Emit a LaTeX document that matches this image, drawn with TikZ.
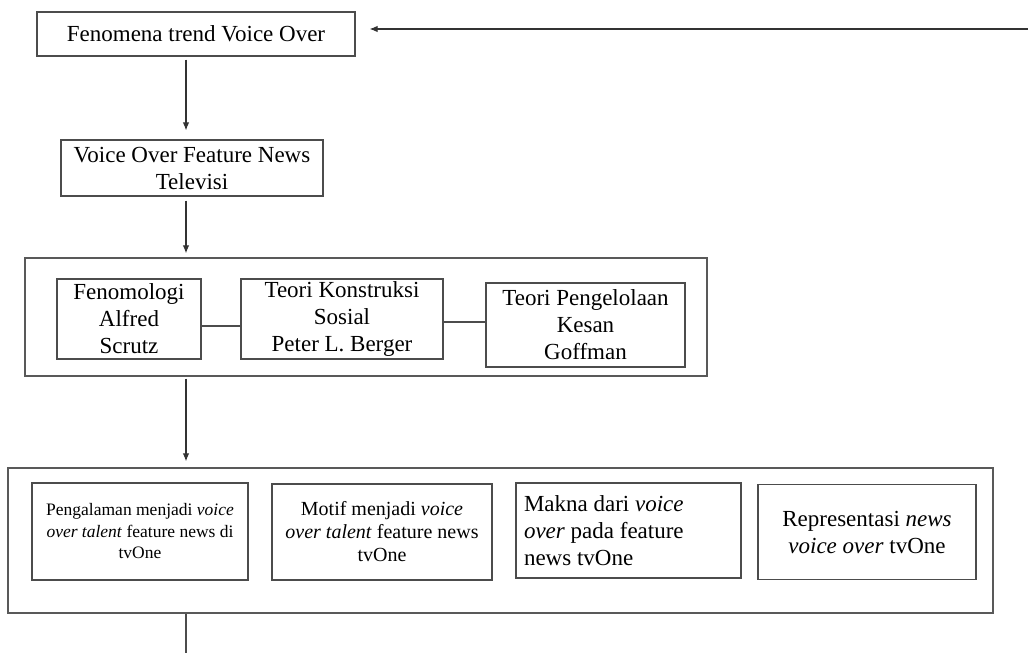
\documentclass[tikz,border=0pt]{standalone}
\usepackage{fontspec}
\setmainfont{Liberation Serif}
\usetikzlibrary{arrows.meta}

\newcommand{\fsbig}{\fontsize{23}{27}\selectfont}
\newcommand{\fsmid}{\fontsize{20}{23}\selectfont}
\newcommand{\fssmall}{\fontsize{17.5}{21.5}\selectfont}

\tikzset{
    box/.style={draw=black!70, line width=1.2pt, inner sep=0pt, align=center, font=\fsbig},
    group/.style={draw=black!65, line width=1.3pt, inner sep=0pt},
    arr/.style={draw=black!80, line width=1.1pt, -{Latex[length=8pt,width=6.5pt]}},
    link/.style={draw=black!70, line width=1.2pt},
}

\begin{document}
\begin{tikzpicture}[x=1pt, y=-1pt]
    \useasboundingbox (0,0) rectangle (1028,653);
    % top of the chain
    \node [box, minimum width=318, minimum height=44] (fenomena) at (196,34) {Fenomena trend Voice Over};
    \node [box, minimum width=262, minimum height=56] (vofn) at (192,168) {Voice Over Feature News\\Televisi};
    \coordinate (loopin) at (1028,29);
    \draw [arr, shorten >=14pt] (loopin) -- (fenomena.east |- loopin);
    \draw [arr, shorten <=3pt, shorten >=9pt] (fenomena.south -| 186,0) -- (vofn.north -| 186,0);

    % theories
    \node [group, minimum width=682, minimum height=118] (teori) at (366,317) {};
    \node [box, minimum width=144, minimum height=80] (schutz) at (129,319) {Fenomologi\\Alfred\\Scrutz};
    \node [box, minimum width=202, minimum height=80] (berger) at (342,319) {Teori Konstruksi\\Sosial\\Peter L. Berger};
    \node [box, minimum width=199, minimum height=84] (goffman) at (585.5,325) {Teori Pengelolaan\\Kesan\\Goffman};
    \coordinate (sb) at ([yshift=-7pt]schutz.east);
    \coordinate (bg) at ([yshift=-3pt]berger.east);
    \draw [link] (sb) -- (sb -| berger.west);
    \draw [link] (bg) -- (bg -| goffman.west);
    \draw [arr, shorten <=4pt, shorten >=4pt] (vofn.south -| 186,0) -- (teori.north -| 186,0);

    % research focus
    \node [group, minimum width=985, minimum height=145] (fokus) at (500.5,540.5) {};
    \node [box, font=\fssmall, minimum width=216, minimum height=97] (alami) at (140,531.5)
        {Pengalaman menjadi \textit{voice}\\\textit{over talent} feature news di\\tvOne};
    \node [box, font=\fsmid, minimum width=220, minimum height=96] (motif) at (382,532)
        {Motif menjadi \textit{voice}\\\textit{over talent} feature news\\tvOne};
    \node [box, align=flush left, text width=209, minimum width=225, minimum height=95] (makna) at (628.5,530.5)
        {Makna dari \textit{voice}\\\textit{over} pada feature\\news tvOne};
    \node [box, minimum width=218, minimum height=95] (repr) at (867,532)
        {Representasi \textit{news}\\\textit{voice over} tvOne};
    \draw [arr, shorten <=2pt, shorten >=6pt] (teori.south -| 186,0) -- (fokus.north -| 186,0);
    \coordinate (lanjut) at (186,653);
    \draw [link] (fokus.south -| lanjut) -- (lanjut);
\end{tikzpicture}
\end{document}
